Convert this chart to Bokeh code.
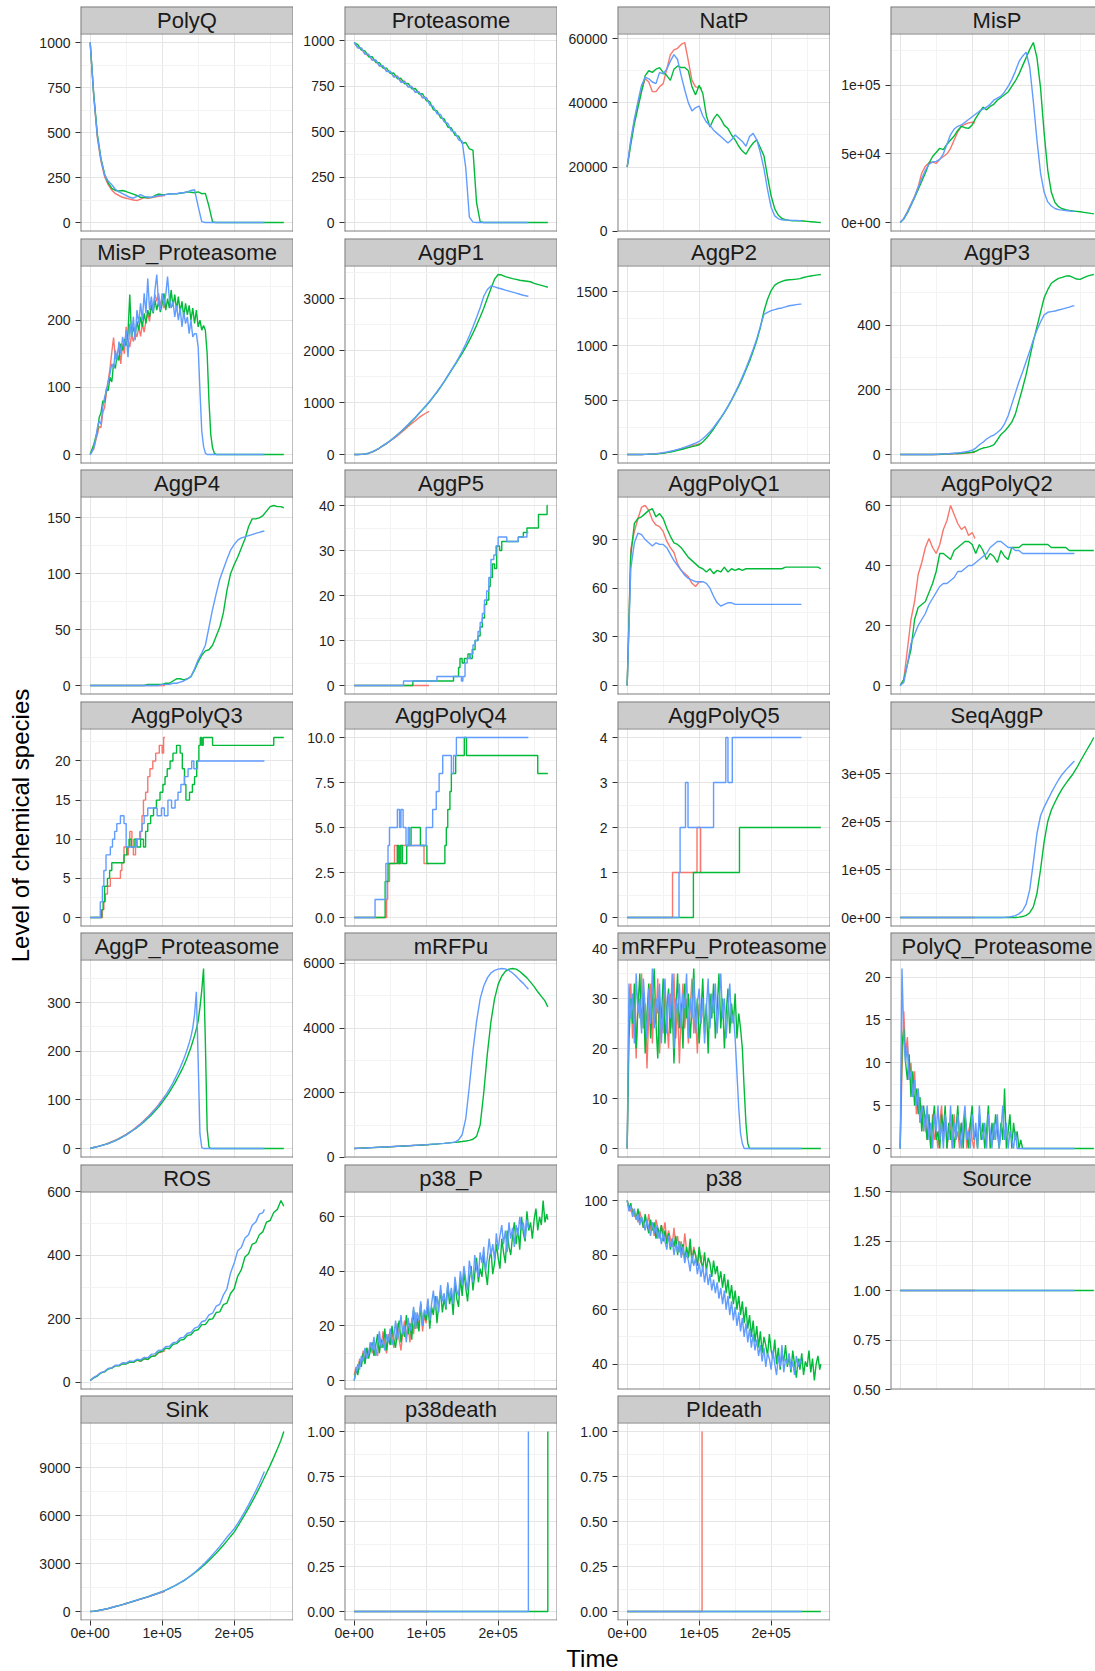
import math
from bokeh.plotting import figure
from bokeh.layouts import row, column
from bokeh.models import Range1d, FixedTicker, LinearAxis
from bokeh.core.properties import value
from bokeh.embed import file_html
from bokeh.resources import INLINE

# ---------------------------------------------------------------------------
# Three stochastic runs of the PolyQ / p38 model (one colour per run)
# ---------------------------------------------------------------------------
RED, GREEN, BLUE = "#F8766D", "#00BA38", "#619CFF"
END_R, END_G, END_B = 104000, 269000, 242000     # last simulated time of each run

TIME_TICKS = [0, 100000, 200000]
TIME_LABELS = ["0e+00", "1e+05", "2e+05"]
TIME_MINOR = [50000, 150000, 250000]

FACETS = ["PolyQ", "Proteasome", "NatP", "MisP",
          "MisP_Proteasome", "AggP1", "AggP2", "AggP3",
          "AggP4", "AggP5", "AggPolyQ1", "AggPolyQ2",
          "AggPolyQ3", "AggPolyQ4", "AggPolyQ5", "SeqAggP",
          "AggP_Proteasome", "mRFPu", "mRFPu_Proteasome", "PolyQ_Proteasome",
          "ROS", "p38_P", "p38", "Source",
          "Sink", "p38death", "PIdeath"]

# ---- species sampled every 5000 s (red / green / blue runs) ----
POLYQ_R = [1000, 700, 470, 340, 255, 210, 180, 160, 150, 140, 135, 130, 125, 122, 130, 140, 135, 138, 142, 145, 148, 150]
POLYQ_G = [1000, 710, 490, 355, 270, 220, 190, 178, 175, 178, 172, 165, 158, 150, 140, 138, 140, 138, 150, 158,
           155, 156, 158, 160, 160, 162, 165, 170, 168, 165, 170, 160, 162, 90, 3, 0]
POLYQ_B = [1000, 700, 480, 350, 265, 230, 210, 185, 170, 160, 150, 140, 135, 145, 155, 145, 140, 140, 145, 150,
           150, 155, 158, 160, 160, 165, 165, 170, 178, 182, 90, 5, 0]

PROTEASOME_R = [990, 962, 957, 926, 921, 893, 891, 861, 862, 832, 831, 803, 806, 776, 778, 746, 749, 716, 719, 686,
                688, 662]
PROTEASOME_G = [990, 978, 948, 944, 912, 912, 880, 879, 849, 849, 820, 822, 791, 793, 763, 765, 735, 737, 707, 708,
                671, 664, 620, 614, 576, 570, 525, 520, 480, 475, 436, 440, 405, 398, 110, 5, 0]
PROTEASOME_B = [990, 960, 960, 926, 926, 893, 894, 861, 863, 830, 832, 800, 804, 770, 775, 745, 748, 716, 718, 686,
                686, 646, 638, 598, 594, 553, 546, 504, 497, 455, 447, 300, 30, 2, 0]

NATP_R = [20000, 28000, 34500, 39500, 44000, 47500, 46500, 43500, 43500, 45000, 46000, 50500, 55000, 56500, 57000,
          58200, 58800, 53000, 47000, 45000, 44800, 44500]
NATP_G = [20000, 27000, 33500, 38500, 43500, 48500, 50000, 49500, 50500, 51000, 49500, 48500, 47000, 50500, 51500,
          51000, 51000, 50000, 45000, 42500, 45500, 43000, 36000, 32500, 35000, 36500, 35000, 33000, 32000, 30000,
          28500, 26500, 25000, 24000, 26000, 27500, 28500, 26000, 23500, 17000, 11000, 7000, 5000, 4000, 3600,
          3400, 3300, 3300, 3300, 3200, 3100, 3000, 2900, 2800, 2750]
NATP_B = [20000, 28500, 35000, 40500, 45500, 48000, 47500, 46500, 46000, 49500, 49000, 50500, 53000, 55000, 53500,
          48500, 44000, 40000, 37500, 38500, 39000, 36000, 34000, 33000, 31500, 30500, 29500, 28500, 27500, 28500,
          30000, 29000, 28000, 26500, 29500, 30500, 28500, 24500, 19500, 13000, 7500, 4800, 3900, 3600, 3500,
          3500, 3400, 3400, 3300, 3300]

MISP_R = [0, 3000, 8000, 13500, 19000, 26000, 36000, 41000, 43500, 44000, 43000, 46000, 48000, 50000, 54000,
          60000, 66000, 70000, 71500, 72500, 73000, 72500]
MISP_G = [0, 2500, 7000, 12500, 18000, 24000, 30000, 36000, 43000, 48000, 51000, 54000, 53000, 57000, 60000,
          63000, 67000, 70000, 69000, 68500, 71000, 76000, 80000, 84000, 82000, 84500, 86000, 89000, 91000, 93000,
          95000, 99000, 103000, 108000, 114000, 120000, 126000, 131000, 120000, 98000, 65000, 38000, 22000, 14500,
          11500, 10000, 9300, 8800, 8400, 8100, 7800, 7400, 7000, 6600, 6300]
MISP_B = [0, 2800, 7500, 13000, 18500, 25500, 32000, 38000, 42500, 44000, 44500, 46000, 50000, 57000, 64000,
          68000, 70000, 71000, 73000, 75000, 77000, 79000, 81000, 82500, 84000, 86000, 89000, 90500, 92000, 95000,
          99000, 104000, 110000, 117000, 121000, 124000, 113000, 88000, 60000, 36000, 22000, 15000, 12000, 10200,
          9400, 9000, 8700, 8400, 8200, 8100]

AGGP1_R = [0, 0, 2, 8, 20, 45, 80, 120, 165, 210, 260, 310, 360, 420, 480, 540, 600, 650, 710, 760, 800, 830]
AGGP1_G = [0, 0, 3, 10, 25, 50, 85, 125, 170, 215, 265, 320, 380, 440, 505, 570, 640, 710, 790, 865,
           940, 1020, 1110, 1200, 1300, 1400, 1510, 1620, 1730, 1840, 1950, 2070, 2200, 2340, 2490, 2650, 2820,
           3010, 3200, 3380, 3470, 3460, 3430, 3410, 3390, 3375, 3360, 3350, 3340, 3330, 3300, 3280, 3260, 3240, 3225]
AGGP1_B = [0, 0, 3, 10, 25, 50, 85, 125, 170, 215, 265, 320, 380, 445, 510, 580, 650, 720, 795, 870,
           950, 1030, 1120, 1210, 1310, 1410, 1520, 1630, 1740, 1860, 1990, 2130, 2290, 2460, 2640, 2830, 3050,
           3180, 3250, 3230, 3210, 3190, 3170, 3150, 3130, 3110, 3090, 3070, 3055, 3050]

AGGP2_R = [0, 0, 0, 0, 0, 1, 2, 4, 6, 10, 14, 20, 27, 34, 42, 50, 58, 68, 78, 88, 98, 105]
AGGP2_G = [0, 0, 0, 0, 0, 1, 2, 3, 5, 8, 12, 17, 23, 30, 38, 46, 55, 64, 73, 80, 90, 115, 150, 190, 235, 285,
           335, 385, 440, 500, 565, 630, 700, 780, 860, 950, 1050, 1170, 1320, 1430, 1510, 1560, 1580, 1595,
           1605, 1610, 1612, 1615, 1620, 1630, 1638, 1644, 1650, 1655, 1658]
AGGP2_B = [0, 0, 0, 0, 0, 1, 3, 5, 8, 12, 17, 23, 30, 38, 47, 57, 68, 80, 92, 105, 120, 145, 175, 210, 250, 295,
           340, 390, 445, 505, 570, 640, 715, 795, 880, 970, 1065, 1180, 1290, 1310, 1325, 1335, 1345, 1350,
           1360, 1370, 1375, 1380, 1385, 1385]

AGGP3_R = [0, 0, 0, 0, 0, 0, 0, 0, 0, 0, 0, 0, 1, 1, 1, 2, 2, 3, 4, 5, 6, 7]
AGGP3_G = [0, 0, 0, 0, 0, 0, 0, 0, 0, 0, 0, 1, 1, 2, 2, 3, 3, 4, 5, 6, 7, 10, 16, 20, 22, 25, 30, 45, 62, 72,
           85, 100, 125, 165, 205, 248, 300, 350, 395, 440, 485, 510, 530, 538, 545, 548, 552, 553, 548, 543,
           542, 547, 552, 555, 557]
AGGP3_B = [0, 0, 0, 0, 0, 0, 0, 0, 0, 0, 1, 1, 2, 2, 3, 4, 5, 6, 8, 10, 13, 20, 30, 38, 48, 55, 60, 68, 78, 95,
           120, 155, 190, 225, 255, 288, 320, 355, 385, 410, 432, 440, 442, 444, 447, 450, 453, 456, 460, 460]

AGGP4_R = [0]
AGGP4_G = [0, 0, 0, 0, 0, 0, 0, 0, 0, 0, 0, 0, 0, 0, 0, 0, 1, 1, 1, 1, 1, 2, 2, 4, 6, 6, 5, 6, 8, 14,
           21, 27, 31, 32, 36, 44, 52, 65, 85, 100, 108, 115, 123, 131, 142, 149, 149, 150, 152, 156,
           160, 161, 160, 160, 159]
AGGP4_B = [0, 0, 0, 0, 0, 0, 0, 0, 0, 0, 0, 0, 0, 0, 0, 0, 0, 0, 0, 0, 1, 1, 1, 2, 2, 3, 4, 6, 8, 15,
           23, 29, 36, 52, 68, 82, 95, 104, 113, 121, 126, 130, 132, 133, 134, 135, 136, 137, 138, 138]

AGGPOLYQ1_R = [0, 84, 95, 103, 110, 111, 108, 102, 99, 98, 95, 89, 85, 82, 75, 71, 69, 67, 63, 61, 64, 64]
AGGPOLYQ1_G = [0, 80, 100, 103, 104, 106, 108, 109, 104, 106, 103, 97, 92, 88, 87, 85, 82, 79, 77, 75,
               73, 72, 70, 72, 69, 71, 70, 73, 70, 72, 71, 72, 71, 72, 72, 72, 72, 72, 72, 72,
               72, 72, 72, 72, 73, 73, 73, 73, 73, 73, 73, 73, 73, 73, 72]
AGGPOLYQ1_B = [0, 72, 88, 94, 93, 90, 88, 86, 88, 87, 87, 85, 81, 77, 74, 71, 68, 66, 65, 64,
               64, 64, 63, 60, 55, 51, 49, 50, 51, 51, 50]

AGGPOLYQ2_R = [0, 2, 12, 22, 28, 37, 41, 46, 49, 46, 44, 47, 52, 55, 60, 57, 54, 52, 53, 50, 51, 49]
AGGPOLYQ2_G = [0, 2, 7, 12, 22, 26, 27, 28, 31, 34, 38, 44, 44, 43, 42, 45, 46, 47, 48, 48,
               47, 44, 47, 45, 42, 44, 43, 41, 45, 43, 42, 46, 46, 46, 47, 47, 47, 47, 47, 47,
               47, 47, 46, 46, 46, 46, 46, 45, 45, 45, 45, 45, 45, 45, 45]
AGGPOLYQ2_B = [0, 1, 7, 14, 17, 20, 22, 24, 27, 29, 31, 33, 34, 34, 35, 36, 38, 38, 39, 40,
               40, 41, 42, 43, 44, 46, 47, 48, 48, 47, 46, 46, 45, 45, 44]

SEQAGGP_R = [0]
SEQAGGP_G = [0, 0, 0, 0, 0, 0, 0, 0, 0, 0, 0, 0, 0, 0, 0, 0, 0, 0, 0, 0, 0, 0, 0, 0, 0, 0, 0, 0, 0, 0,
             0, 0, 0, 800, 2000, 4500, 10000, 22000, 50000, 100000, 158000, 200000, 224000, 240000, 255000,
             268000, 279000, 289000, 299000, 311000, 325000, 338000, 351000, 364000, 375000]
SEQAGGP_B = [0, 0, 0, 0, 0, 0, 0, 0, 0, 0, 0, 0, 0, 0, 0, 0, 0, 0, 0, 0, 0, 0, 0, 0, 0, 0, 0, 0, 0,
             300, 900, 2000, 4000, 7500, 14000, 28000, 58000, 115000, 175000, 212000, 230000, 245000, 260000,
             274000, 287000, 298000, 307000, 315000, 323000, 326000]

MRFPU_R = [275, 281, 286, 292, 297, 303, 309, 314, 320, 326, 331, 337, 343, 348, 354, 360, 366, 371, 377, 383, 388, 392]
MRFPU_G = [275, 280, 286, 291, 296, 301, 307, 312, 317, 322, 328, 334, 340, 346, 352, 358, 364, 371, 378, 385,
           392, 400, 408, 416, 425, 434, 444, 455, 466, 478, 490, 505, 525, 560, 650, 1000, 2000, 3200, 4200, 4900,
           5350, 5600, 5750, 5820, 5840, 5820, 5750, 5650, 5550, 5420, 5280, 5120, 4980, 4840, 4650]
MRFPU_B = [275, 281, 287, 292, 298, 303, 309, 315, 320, 326, 332, 338, 344, 350, 356, 362, 368, 375, 381, 388,
           395, 402, 410, 418, 426, 435, 445, 458, 475, 540, 700, 1200, 2200, 3300, 4200, 4900, 5300, 5550, 5700, 5780,
           5820, 5840, 5830, 5780, 5700, 5600, 5480, 5380, 5250, 5200]

ROS_R = [6, 15, 21, 31, 34, 43, 45, 53, 53, 60, 59, 64, 63, 70, 66, 74, 73, 82, 84, 93, 96, 100]
ROS_G = [6, 14, 20, 30, 33, 42, 45, 52, 52, 58, 58, 64, 63, 70, 67, 75, 72, 82, 83, 95,
         98, 108, 106, 120, 122, 133, 135, 148, 150, 163, 166, 182, 182, 198, 200, 220, 222, 245, 250, 280,
         295, 335, 355, 395, 405, 435, 440, 465, 475, 505, 510, 535, 545, 573, 555]
ROS_B = [6, 16, 22, 31, 35, 44, 46, 54, 54, 62, 61, 68, 66, 73, 71, 79, 78, 89, 90, 101,
         102, 113, 113, 125, 127, 140, 142, 155, 157, 171, 175, 191, 195, 213, 218, 240, 246, 275, 295, 345,
         375, 415, 425, 455, 465, 495, 505, 530, 535, 545]

SINK_R = [0, 20, 50, 90, 140, 190, 250, 310, 370, 430, 500, 565, 630, 700, 770, 840, 910, 980, 1060, 1130, 1200, 1260]
SINK_G = [0, 20, 50, 90, 140, 190, 250, 310, 370, 430, 500, 570, 640, 710, 780, 850, 920, 1000, 1080, 1160,
          1240, 1340, 1440, 1550, 1670, 1800, 1920, 2080, 2240, 2410, 2590, 2780, 2980, 3200, 3420, 3650, 3900,
          4150, 4420, 4700, 4970, 5330, 5700, 6080, 6470, 6880, 7300, 7740, 8200, 8670, 9150, 9650, 10170,
          10720, 11270]
SINK_B = [0, 20, 50, 90, 140, 190, 250, 310, 370, 430, 500, 570, 640, 710, 780, 850, 920, 1000, 1080, 1160,
          1240, 1340, 1450, 1560, 1680, 1810, 1950, 2100, 2260, 2440, 2640, 2850, 3070, 3300, 3550, 3810, 4080,
          4360, 4650, 4910, 5180, 5520, 5880, 6270, 6680, 7110, 7560, 8030, 8550, 8760]

# ---- species sampled every 2500 s ----
AGGP_PROTEASOME_R = [0, 1, 2, 3, 4, 5, 6, 7, 8, 9.5, 11, 12.5, 14, 15.5, 17, 19, 21, 23, 25, 27,
                     29, 31.5, 34, 36.5, 39, 42, 45, 48, 51, 54.5, 58, 61.5, 65, 69, 73, 77, 81, 85.5, 90, 95,
                     100, 105, 108]
AGGP_PROTEASOME_G = [0, 1, 2, 3, 4, 5, 6, 7, 8, 9, 10, 11.5, 13, 14.5, 16, 18, 20, 22, 24, 26,
                     28, 30.5, 33, 35.5, 38, 40.5, 43, 46, 49, 52, 55, 58.5, 62, 65.5, 69, 73, 77, 81, 85, 90,
                     95, 100, 105, 110, 116, 122, 128, 134, 141, 148, 155, 162, 170, 179, 188, 198, 208, 220, 232, 246,
                     262, 290, 325, 370, 220, 40, 3, 0]
AGGP_PROTEASOME_B = [0, 1, 2, 3, 4, 5, 6, 7, 8, 9, 10, 11.5, 13, 14.5, 16, 18, 20, 22, 24, 26,
                     28, 30.5, 33, 35.5, 38, 41, 44, 47, 50, 53.5, 57, 60.5, 64, 68, 72, 76, 80, 84.5, 89, 94,
                     99, 104.5, 110, 116, 122, 128.5, 135, 142.5, 150, 158, 166, 175, 184, 194, 205, 217, 230, 248,
                     275, 322, 180, 30, 2, 0]

MISP_PROTEASOME_R = [0, 5, 8, 20, 30, 42, 40, 62, 70, 92, 110, 128, 152, 174, 142, 150, 160, 135, 165, 150,
                     190, 170, 160, 178, 168, 182, 175, 190, 176, 195, 182, 200, 210, 198, 225, 215, 238, 228, 240, 222,
                     232, 218, 225]
MISP_PROTEASOME_G = [0, 8, 15, 25, 35, 55, 62, 80, 78, 98, 95, 115, 108, 135, 128, 150, 140, 165, 155, 172,
                     162, 180, 238, 175, 190, 178, 198, 185, 205, 190, 210, 195, 215, 205, 222, 210, 230, 215, 228, 212,
                     225, 240, 215, 232, 218, 245, 220, 238, 215, 235, 212, 228, 205, 225, 208, 222, 200, 218, 195, 215,
                     190, 200, 185, 192, 185, 150, 80, 30, 10, 2, 0]
MISP_PROTEASOME_B = [0, 4, 10, 22, 40, 50, 45, 70, 85, 95, 108, 120, 135, 128, 155, 140, 168, 150, 175, 160,
                     185, 145, 195, 175, 205, 170, 215, 195, 225, 200, 240, 210, 262, 215, 235, 212, 245, 268, 225, 215,
                     240, 222, 238, 265, 232, 218, 228, 205, 222, 200, 218, 190, 212, 195, 205, 180, 200, 175, 180, 180,
                     160, 95, 35, 12, 2, 0]

MRFPU_PROTEASOME_R = [0, 28, 33, 22, 30, 18, 31, 26, 35, 24, 29, 16, 27, 33, 21, 30, 25, 34, 19, 28,
                      23, 32, 26, 20, 31, 24, 35, 22, 29, 17, 27, 33, 24, 30, 21, 28, 34, 23, 27, 19,
                      29, 25, 27]
MRFPU_PROTEASOME_G = [0, 22, 30, 25, 33, 20, 28, 35, 24, 31, 19, 27, 33, 22, 29, 36, 25, 18, 30, 26,
                      34, 21, 28, 32, 23, 30, 17, 27, 35, 24, 29, 20, 33, 26, 31, 22, 28, 36, 25, 30,
                      21, 27, 34, 23, 29, 19, 31, 26, 33, 22, 28, 35, 24, 30, 20, 27, 32, 23, 29, 25,
                      31, 22, 27, 24, 20, 12, 5, 1, 0]
MRFPU_PROTEASOME_B = [0, 33, 26, 31, 21, 35, 27, 30, 23, 34, 28, 22, 32, 25, 36, 24, 30, 27, 33, 21,
                      29, 34, 23, 31, 26, 35, 20, 30, 27, 33, 24, 31, 28, 35, 22, 30, 26, 34, 23, 29,
                      32, 25, 30, 21, 28, 34, 24, 31, 27, 33, 23, 29, 35, 26, 30, 22, 28, 33, 25, 27,
                      22, 15, 8, 3, 1, 0]

POLYQ_PROTEASOME_R = [0, 9, 16, 11, 13, 8, 10, 6, 9, 4, 7, 3, 5, 2, 4, 1, 3, 0, 4, 1,
                      2, 0, 3, 5, 1, 4, 0, 2, 3, 0, 4, 1, 2, 0, 3, 1, 4, 0, 2, 3, 1, 0, 2]
POLYQ_PROTEASOME_G = [0, 12, 14, 10, 8, 11, 6, 9, 5, 7, 4, 6, 2, 5, 3, 1, 4, 0, 3, 5,
                      1, 2, 0, 4, 2, 5, 0, 3, 1, 4, 0, 2, 5, 1, 3, 0, 4, 2, 0, 3,
                      5, 1, 2, 0, 4, 1, 3, 0, 2, 5, 0, 3, 1, 4, 2, 0, 3, 1, 7, 0,
                      2, 4, 0, 3, 1, 2, 0, 1, 0]
POLYQ_PROTEASOME_B = [0, 21, 13, 10, 12, 8, 9, 6, 8, 5, 7, 3, 5, 4, 2, 5, 1, 3, 0, 4,
                      2, 5, 1, 3, 0, 4, 2, 1, 5, 0, 3, 1, 4, 2, 0, 3, 5, 1, 2, 0,
                      4, 1, 3, 0, 5, 2, 1, 3, 0, 4, 2, 0, 3, 1, 4, 0, 2, 5, 1, 3,
                      0, 2, 1, 0, 2, 0]

P38_P_R = [2, 5, 3, 8, 6, 11, 7, 12, 9, 14, 10, 15, 11, 9, 16, 12, 18, 13, 10, 17,
           14, 19, 12, 16, 21, 15, 11, 18, 22, 16, 20, 14, 23, 17, 25, 19, 22, 28, 18, 24, 21, 27, 23]
P38_P_G = [0, 4, 2, 7, 5, 10, 6, 12, 8, 11, 14, 9, 13, 17, 10, 15, 12, 19, 11, 16,
           13, 20, 15, 12, 18, 22, 14, 19, 16, 24, 17, 21, 15, 26, 19, 23, 18, 28, 20, 25,
           22, 29, 19, 27, 24, 31, 21, 28, 33, 25, 30, 26, 35, 28, 32, 24, 36, 30, 27, 38,
           31, 40, 34, 29, 37, 42, 33, 39, 45, 36, 41, 38, 46, 40, 35, 44, 48, 39, 43, 50,
           45, 41, 52, 47, 43, 55, 49, 46, 53, 58, 50, 56, 48, 60, 54, 51, 62, 55, 58, 52,
           59, 63, 55, 60, 57, 66, 58, 61, 59]
P38_P_B = [0, 3, 6, 4, 9, 7, 12, 8, 10, 14, 11, 16, 9, 13, 18, 12, 15, 11, 17, 14,
           19, 13, 16, 22, 15, 18, 24, 17, 20, 14, 23, 18, 21, 27, 19, 25, 22, 29, 20, 26,
           24, 30, 22, 28, 33, 26, 31, 25, 35, 29, 32, 27, 36, 30, 34, 28, 38, 33, 31, 40,
           35, 42, 37, 33, 44, 39, 36, 46, 41, 38, 47, 43, 49, 40, 45, 52, 46, 50, 44, 54,
           48, 53, 57, 50, 55, 47, 58, 52, 56, 49, 57, 53, 60, 55, 58, 52, 59, 56]

P38_R = [100, 98, 96, 97, 94, 95, 92, 96, 93, 90, 94, 91, 95, 89, 92, 87, 93, 90, 86, 91,
         88, 92, 85, 89, 86, 83, 90, 84, 87, 81, 85, 80, 88, 82, 79, 84, 78, 83, 80, 76, 81, 77, 80]
P38_G = [100, 97, 99, 95, 96, 93, 97, 92, 94, 90, 95, 91, 88, 93, 89, 92, 86, 90, 87, 91,
         85, 89, 84, 88, 82, 86, 83, 87, 80, 85, 81, 84, 78, 83, 79, 86, 77, 82, 80, 76,
         83, 78, 75, 81, 74, 79, 77, 72, 78, 73, 76, 70, 74, 68, 73, 66, 71, 64, 69, 62,
         67, 60, 65, 58, 63, 55, 61, 53, 58, 50, 56, 48, 54, 46, 52, 44, 50, 47, 43, 51,
         45, 42, 49, 40, 46, 38, 44, 41, 47, 39, 43, 37, 45, 40, 35, 42, 38, 44, 36, 41,
         39, 45, 37, 42, 34, 40, 43, 38, 40]
P38_B = [100, 96, 98, 94, 97, 93, 95, 91, 94, 92, 89, 93, 90, 87, 92, 88, 91, 86, 89, 84,
         88, 85, 82, 87, 83, 86, 80, 84, 81, 85, 79, 83, 77, 81, 78, 74, 80, 76, 79, 73,
         77, 72, 76, 70, 75, 69, 73, 67, 71, 66, 70, 64, 68, 62, 67, 60, 65, 58, 63, 56,
         61, 54, 59, 52, 57, 50, 55, 48, 53, 46, 51, 45, 49, 43, 47, 41, 46, 39, 44, 42,
         38, 45, 40, 36, 43, 39, 47, 37, 42, 40, 44, 38, 41, 36, 43, 39, 42, 40]

# ---- integer-valued species given as change points (time, level) ----
AGGP5_R_T = [0, 104000]
AGGP5_R = [0, 0]
AGGP5_G_T = [0, 81500, 138000, 145000, 147000, 150000, 153000, 158000, 161000, 164000, 168000, 172000, 175000,
             178000, 181000, 184000, 187000, 189000, 192000, 195000, 198000, 202000, 205000, 228000, 235000,
             240000, 256000, 268000, 269000]
AGGP5_G = [0, 1, 2, 4, 6, 5, 6, 7, 6, 8, 10, 11, 13, 15, 18, 19, 22, 24, 27, 26, 31, 30, 32, 33, 34, 35, 38, 40, 40]
AGGP5_B_T = [0, 68500, 115000, 149000, 151000, 154000, 157000, 161000, 165000, 168000, 172000, 175000, 178000,
             181000, 184000, 187000, 190000, 194000, 197000, 200000, 212000, 228000, 240000, 242000]
AGGP5_B = [0, 1, 2, 1, 2, 5, 6, 7, 9, 10, 12, 14, 16, 19, 21, 24, 28, 29, 31, 33, 32, 33, 34, 34]

AGGPOLYQ3_R_T = [0, 17000, 19000, 21000, 24000, 28000, 42000, 44000, 47000, 51000, 53000, 55000, 58000, 60000,
                 63000, 70000, 72000, 74000, 77000, 80000, 83000, 87000, 91000, 96000, 100000, 102000, 104000]
AGGPOLYQ3_R = [0, 1, 2, 3, 4, 5, 6, 7, 9, 8, 9, 11, 9, 8, 10, 11, 13, 15, 16, 18, 19, 20, 21, 22, 21, 23, 23]
AGGPOLYQ3_G_T = [0, 16000, 18000, 20000, 24000, 27000, 30000, 47000, 51000, 54000, 57000, 61000, 65000, 70000,
                 74000, 77000, 80000, 84000, 88000, 92000, 97000, 101000, 104000, 107000, 111000, 115000, 120000,
                 125000, 128000, 131000, 133000, 138000, 142000, 145000, 148000, 151000, 153000, 155000, 157000,
                 170000, 255000, 269000]
AGGPOLYQ3_G = [0, 1, 2, 4, 5, 6, 7, 8, 9, 10, 9, 10, 9, 10, 9, 11, 12, 13, 14, 15, 16, 17, 18, 19, 20, 21, 22,
               21, 19, 17, 15, 16, 17, 18, 20, 22, 23, 22, 23, 22, 23, 23]
AGGPOLYQ3_B_T = [0, 14000, 17000, 19000, 22000, 28000, 31000, 34000, 37000, 42000, 47000, 50000, 64000, 69000,
                 72000, 75000, 80000, 93000, 99000, 103000, 108000, 113000, 118000, 122000, 126000, 131000, 136000,
                 141000, 144000, 149000, 242000]
AGGPOLYQ3_B = [0, 2, 4, 6, 8, 9, 10, 11, 12, 13, 12, 9, 10, 11, 12, 13, 14, 13, 14, 13, 15, 14, 15, 16, 17, 18,
               19, 20, 19, 20, 20]

AGGPOLYQ4_R_T = [0, 45000, 46500, 49000, 56000, 60000, 66000, 97000, 104000]
AGGPOLYQ4_R = [0, 1, 2, 3, 4, 3, 4, 3, 3]
AGGPOLYQ4_G_T = [0, 43000, 47000, 60000, 62000, 64000, 67000, 73000, 79000, 92000, 101000, 126000, 128000,
                 130000, 133000, 135000, 141000, 153000, 156000, 255000, 269000]
AGGPOLYQ4_G = [0, 2, 3, 4, 3, 4, 3, 4, 5, 4, 3, 4, 5, 6, 7, 8, 9, 10, 9, 8, 8]
AGGPOLYQ4_B_T = [0, 29000, 44000, 47000, 49000, 60000, 63000, 65000, 68000, 72000, 75000, 77000, 100000, 109000,
                 114000, 118000, 123000, 135000, 138000, 142000, 242000]
AGGPOLYQ4_B = [0, 1, 3, 4, 5, 6, 5, 6, 5, 4, 5, 4, 5, 6, 7, 8, 9, 8, 9, 10, 10]

AGGPOLYQ5_R_T = [0, 63000, 97000, 102000, 104000]
AGGPOLYQ5_R = [0, 1, 2, 1, 1]
AGGPOLYQ5_G_T = [0, 92000, 156000, 269000]
AGGPOLYQ5_G = [0, 1, 2, 2]
AGGPOLYQ5_B_T = [0, 72000, 73500, 81000, 84500, 120000, 137000, 140000, 146000, 242000]
AGGPOLYQ5_B = [0, 1, 2, 3, 2, 3, 4, 3, 4, 4]

SOURCE_R_T, SOURCE_R = [0, 104000], [1, 1]
SOURCE_G_T, SOURCE_G = [0, 269000], [1, 1]
SOURCE_B_T, SOURCE_B = [0, 242000], [1, 1]

P38DEATH_R_T, P38DEATH_R = [0, 104000], [0, 0]
P38DEATH_G_T, P38DEATH_G = [0, 269000], [0, 1]
P38DEATH_B_T, P38DEATH_B = [0, 242000], [0, 1]

PIDEATH_R_T, PIDEATH_R = [0, 104000], [0, 1]
PIDEATH_G_T, PIDEATH_G = [0, 269000], [0, 0]
PIDEATH_B_T, PIDEATH_B = [0, 242000], [0, 0]

# ---- y-axis breaks of each facet (free scales) ----
Y_TICKS = {
    "PolyQ": [0, 250, 500, 750, 1000], "Proteasome": [0, 250, 500, 750, 1000],
    "NatP": [0, 20000, 40000, 60000], "MisP": [0, 50000, 100000],
    "MisP_Proteasome": [0, 100, 200], "AggP1": [0, 1000, 2000, 3000],
    "AggP2": [0, 500, 1000, 1500], "AggP3": [0, 200, 400],
    "AggP4": [0, 50, 100, 150], "AggP5": [0, 10, 20, 30, 40],
    "AggPolyQ1": [0, 30, 60, 90], "AggPolyQ2": [0, 20, 40, 60],
    "AggPolyQ3": [0, 5, 10, 15, 20], "AggPolyQ4": [0, 2.5, 5, 7.5, 10],
    "AggPolyQ5": [0, 1, 2, 3, 4], "SeqAggP": [0, 100000, 200000, 300000],
    "AggP_Proteasome": [0, 100, 200, 300], "mRFPu": [0, 2000, 4000, 6000],
    "mRFPu_Proteasome": [0, 10, 20, 30, 40], "PolyQ_Proteasome": [0, 5, 10, 15, 20],
    "ROS": [0, 200, 400, 600], "p38_P": [0, 20, 40, 60], "p38": [40, 60, 80, 100],
    "Source": [0.5, 0.75, 1, 1.25, 1.5], "Sink": [0, 3000, 6000, 9000],
    "p38death": [0, 0.25, 0.5, 0.75, 1], "PIdeath": [0, 0.25, 0.5, 0.75, 1],
}
Y_LABELS = {
    "MisP": ["0e+00", "5e+04", "1e+05"],
    "SeqAggP": ["0e+00", "1e+05", "2e+05", "3e+05"],
    "AggPolyQ4": ["0.0", "2.5", "5.0", "7.5", "10.0"],
    "Source": ["0.50", "0.75", "1.00", "1.25", "1.50"],
    "p38death": ["0.00", "0.25", "0.50", "0.75", "1.00"],
    "PIdeath": ["0.00", "0.25", "0.50", "0.75", "1.00"],
}


# ---------------------------------------------------------------------------
def sampled(vals, step, end):
    """Times for values taken every `step` s; a short list holds its last level to `end`."""
    t = list(range(0, end + 1, step))
    if t[-1] != end:
        t.append(end)
    v = list(vals)[:len(t)]
    t = t[:len(v)]
    if t[-1] != end:
        t.append(end)
        v.append(v[-1])
    return t, v


def on_grid(step, r, g, b):
    out = []
    for color, vals, end in ((RED, r, END_R), (GREEN, g, END_G), (BLUE, b, END_B)):
        t, v = sampled(vals, step, end)
        out.append((color, t, v, "line"))
    return out


def as_steps(r, g, b):
    return [(RED, r[0], r[1], "step"), (GREEN, g[0], g[1], "step"), (BLUE, b[0], b[1], "step")]


SERIES = {
    "PolyQ": on_grid(5000, POLYQ_R, POLYQ_G, POLYQ_B),
    "Proteasome": on_grid(5000, PROTEASOME_R, PROTEASOME_G, PROTEASOME_B),
    "NatP": on_grid(5000, NATP_R, NATP_G, NATP_B),
    "MisP": on_grid(5000, MISP_R, MISP_G, MISP_B),
    "MisP_Proteasome": on_grid(2500, MISP_PROTEASOME_R, MISP_PROTEASOME_G, MISP_PROTEASOME_B),
    "AggP1": on_grid(5000, AGGP1_R, AGGP1_G, AGGP1_B),
    "AggP2": on_grid(5000, AGGP2_R, AGGP2_G, AGGP2_B),
    "AggP3": on_grid(5000, AGGP3_R, AGGP3_G, AGGP3_B),
    "AggP4": on_grid(5000, AGGP4_R, AGGP4_G, AGGP4_B),
    "AggP5": as_steps((AGGP5_R_T, AGGP5_R), (AGGP5_G_T, AGGP5_G), (AGGP5_B_T, AGGP5_B)),
    "AggPolyQ1": on_grid(5000, AGGPOLYQ1_R, AGGPOLYQ1_G, AGGPOLYQ1_B),
    "AggPolyQ2": on_grid(5000, AGGPOLYQ2_R, AGGPOLYQ2_G, AGGPOLYQ2_B),
    "AggPolyQ3": as_steps((AGGPOLYQ3_R_T, AGGPOLYQ3_R), (AGGPOLYQ3_G_T, AGGPOLYQ3_G), (AGGPOLYQ3_B_T, AGGPOLYQ3_B)),
    "AggPolyQ4": as_steps((AGGPOLYQ4_R_T, AGGPOLYQ4_R), (AGGPOLYQ4_G_T, AGGPOLYQ4_G), (AGGPOLYQ4_B_T, AGGPOLYQ4_B)),
    "AggPolyQ5": as_steps((AGGPOLYQ5_R_T, AGGPOLYQ5_R), (AGGPOLYQ5_G_T, AGGPOLYQ5_G), (AGGPOLYQ5_B_T, AGGPOLYQ5_B)),
    "SeqAggP": on_grid(5000, SEQAGGP_R, SEQAGGP_G, SEQAGGP_B),
    "AggP_Proteasome": on_grid(2500, AGGP_PROTEASOME_R, AGGP_PROTEASOME_G, AGGP_PROTEASOME_B),
    "mRFPu": on_grid(5000, MRFPU_R, MRFPU_G, MRFPU_B),
    "mRFPu_Proteasome": on_grid(2500, MRFPU_PROTEASOME_R, MRFPU_PROTEASOME_G, MRFPU_PROTEASOME_B),
    "PolyQ_Proteasome": on_grid(2500, POLYQ_PROTEASOME_R, POLYQ_PROTEASOME_G, POLYQ_PROTEASOME_B),
    "ROS": on_grid(5000, ROS_R, ROS_G, ROS_B),
    "p38_P": on_grid(2500, P38_P_R, P38_P_G, P38_P_B),
    "p38": on_grid(2500, P38_R, P38_G, P38_B),
    "Source": as_steps((SOURCE_R_T, SOURCE_R), (SOURCE_G_T, SOURCE_G), (SOURCE_B_T, SOURCE_B)),
    "Sink": on_grid(5000, SINK_R, SINK_G, SINK_B),
    "p38death": as_steps((P38DEATH_R_T, P38DEATH_R), (P38DEATH_G_T, P38DEATH_G), (P38DEATH_B_T, P38DEATH_B)),
    "PIdeath": as_steps((PIDEATH_R_T, PIDEATH_R), (PIDEATH_G_T, PIDEATH_G), (PIDEATH_B_T, PIDEATH_B)),
}

# ---------------------------------------------------------------------------
# facet layout (pixels)
# ---------------------------------------------------------------------------
FONT = "Liberation Sans"
NCOL = 4
FULL_W = 213                      # panel width
FRAME_W = [213, 213, 213, 205]    # last column runs off the page edge
BORDER_L = [44, 51, 60, 60]       # room for each column's y axis
STRIP_H, PANEL_H = 27, 198
GAPS = [7, 6, 7, 6, 7, 6]
LAST_GAP = 10                     # under the last facet of a short column
TOP_PAD, AXIS_H = 6, 24
YLAB_W, TITLE_H = 36, 27
COL_H = TOP_PAD + 7 * (STRIP_H + PANEL_H) + sum(GAPS) + AXIS_H

T_MIN, T_MAX = 0, END_G
X_PAD = 0.05 * (T_MAX - T_MIN)
X_START, X_SPAN = T_MIN - X_PAD, (T_MAX - T_MIN) + 2 * X_PAD

GRID_MAJOR, GRID_MINOR = "#E5E5E5", "#F3F3F3"
BORDER_GREY = "#7F7F7F"
STRIP_FILL = "#CCCCCC"
LINE_W = 1.4


def style_axis(ax, standoff):
    ax.axis_line_color = None
    ax.major_tick_line_color = "#333333"
    ax.major_tick_out = 5
    ax.major_tick_in = 0
    ax.minor_tick_line_color = None
    ax.major_label_text_font = FONT
    ax.major_label_text_font_size = "14px"
    ax.major_label_text_color = "#1F1F1F"
    ax.major_label_standoff = standoff


def make_facet(name, col, gap, with_axis, top_pad):
    """One facet: grey strip on top, data panel below, an empty gap under it."""
    fw = FRAME_W[col]
    series = SERIES[name]
    ys = [y for s in series for y in s[2]]
    lo, hi = min(ys), max(ys)
    if hi == lo:
        lo, hi = lo - 0.5, hi + 0.5
    else:
        pad = 0.05 * (hi - lo)
        lo, hi = lo - pad, hi + pad
    k = (hi - lo) / PANEL_H                       # data units per pixel
    y_bot, y_top = lo - gap * k, hi + STRIP_H * k
    xs, xe = X_START, X_START + X_SPAN * fw / FULL_W

    p = figure(frame_width=fw, frame_height=STRIP_H + PANEL_H + gap,
               x_range=Range1d(xs, xe), y_range=Range1d(y_bot, y_top),
               x_axis_location=None, toolbar_location=None, output_backend="svg",
               min_border_left=BORDER_L[col], min_border_right=0, min_border_top=top_pad,
               min_border_bottom=AXIS_H if with_axis else 0)
    p.background_fill_color = "white"
    p.border_fill_color = "white"
    p.outline_line_color = None

    yt = Y_TICKS[name]
    labels = Y_LABELS.get(name, [str(int(t)) if float(t).is_integer() else str(t) for t in yt])
    step = yt[1] - yt[0]
    yminor = [yt[0] - step / 2] + [t + step / 2 for t in yt]
    p.yaxis.ticker = FixedTicker(ticks=yt)
    p.yaxis.major_label_overrides = dict(zip(yt, labels))
    style_axis(p.yaxis[0], 5)

    p.xgrid.ticker = FixedTicker(ticks=TIME_TICKS, minor_ticks=TIME_MINOR)
    p.ygrid.ticker = FixedTicker(ticks=yt, minor_ticks=yminor)
    for g in (p.xgrid[0], p.ygrid[0]):
        g.grid_line_color = GRID_MAJOR
        g.grid_line_width = 1
        g.minor_grid_line_color = GRID_MINOR
        g.minor_grid_line_width = 1

    if with_axis:
        xa = LinearAxis(ticker=FixedTicker(ticks=TIME_TICKS),
                        major_label_overrides=dict(zip(TIME_TICKS, TIME_LABELS)))
        style_axis(xa, 2)
        p.add_layout(xa, "below")

    for color, t, v, kind in series:
        if kind == "step":
            p.step(x=t, y=v, mode="after", line_color=color, line_width=LINE_W)
        else:
            p.line(x=t, y=v, line_color=color, line_width=LINE_W)

    # blank gap under the panel and the strip above it
    if gap:
        p.quad(left=[xs], right=[xe], bottom=[y_bot], top=[lo], fill_color="white", line_color=None)
    p.quad(left=[xs], right=[xe], bottom=[hi], top=[y_top], fill_color=STRIP_FILL, line_color=None)

    # borders of strip and panel
    half = 0.5 * k
    p.segment(x0=[xs, xs, xs, xs], y0=[lo, y_top, hi - half, lo + half],
              x1=[xs, xe, xe, xe], y1=[y_top, y_top, hi - half, lo + half],
              line_color=BORDER_GREY, line_width=[2, 2, 1, 1])
    if col < NCOL - 1:
        p.segment(x0=[xe], y0=[lo], x1=[xe], y1=[y_top], line_color=BORDER_GREY, line_width=2)

    p.text(x=[xs + X_SPAN / 2], y=[hi + STRIP_H * k / 2], text=[name], text_align="center",
           text_baseline="middle", text_font=value(FONT), text_font_size="22px", text_color="#1A1A1A")
    return p


columns = [[] for _ in range(NCOL)]
nrows = math.ceil(len(FACETS) / NCOL)
for i, name in enumerate(FACETS):
    r, c = divmod(i, NCOL)
    with_axis = r == nrows - 1
    last_in_col = i + NCOL >= len(FACETS)
    gap = 0 if with_axis else (LAST_GAP if last_in_col else GAPS[r])
    columns[c].append(make_facet(name, c, gap, with_axis, TOP_PAD if r == 0 else 0))

# y title
ylab = figure(frame_width=YLAB_W, frame_height=COL_H, x_range=Range1d(0, YLAB_W), y_range=Range1d(0, COL_H),
              x_axis_location=None, y_axis_location=None, toolbar_location=None, output_backend="svg",
              min_border_left=0, min_border_right=0, min_border_top=0, min_border_bottom=0)
ylab.xgrid.visible = False
ylab.ygrid.visible = False
ylab.outline_line_color = None
ylab.text(x=[20], y=[COL_H - 825], text=["Level of chemical species"], angle=math.pi / 2,
          text_align="center", text_baseline="middle", text_font=value(FONT), text_font_size="24px",
          text_color="black")

# x title
page_w = YLAB_W + sum(BORDER_L) + sum(FRAME_W)
xlab = figure(frame_width=page_w, frame_height=TITLE_H, x_range=Range1d(0, page_w), y_range=Range1d(0, TITLE_H),
              x_axis_location=None, y_axis_location=None, toolbar_location=None, output_backend="svg",
              min_border_left=0, min_border_right=0, min_border_top=0, min_border_bottom=0)
xlab.xgrid.visible = False
xlab.ygrid.visible = False
xlab.outline_line_color = None
xlab.text(x=[592], y=[TITLE_H / 2], text=["Time"], text_align="center", text_baseline="middle",
          text_font=value(FONT), text_font_size="24px", text_color="black")

body = row([ylab] + [column(col, spacing=0) for col in columns], spacing=0)
root = column([body, xlab], spacing=0)

html = file_html(root, INLINE, title="Chemical species levels")
html = html.replace("<head>", "<head><style>html,body{margin:0;padding:0;}</style>", 1)
open("out.html", "w").write(html)
